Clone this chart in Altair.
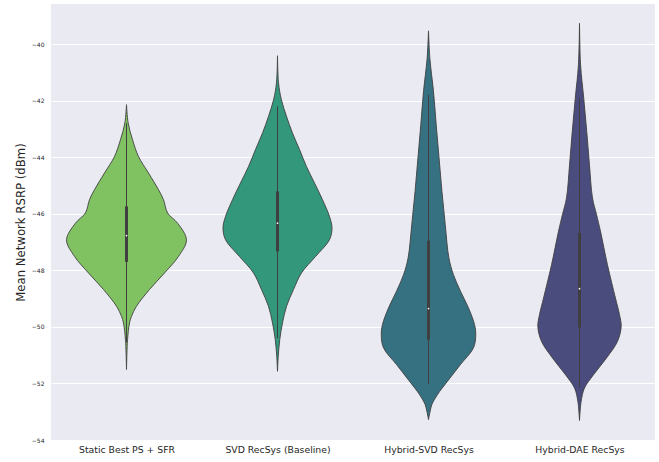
import json

import altair as alt
import pandas as pd

# Scenarios shown along the x axis and their violin fill colours (muted viridis)
categories = [
    "Static Best PS + SFR",
    "SVD RecSys (Baseline)",
    "Hybrid-SVD RecSys",
    "Hybrid-DAE RecSys",
]
fill_colors = ["#80c161", "#33977c", "#367182", "#4a4c7e"]

# Kernel-density outlines: RSRP level (dBm) and half-width of the violin
# expressed as a fraction of the category spacing.
static_rsrp = [-42.14, -42.79, -43.38, -43.97, -44.56, -45.15, -45.50, -45.97, -46.33,
               -46.92, -47.51, -48.09, -48.68, -49.27, -49.63, -49.86, -50.45, -51.51]
static_half = [0.0, 0.011, 0.040, 0.079, 0.146, 0.212, 0.245, 0.272, 0.338,
               0.397, 0.344, 0.252, 0.152, 0.066, 0.033, 0.020, 0.007, 0.0]

svd_rsrp = [-40.41, -41.38, -41.97, -42.56, -43.14, -43.73, -44.33, -44.91, -45.50, -46.09,
            -46.50, -46.92, -47.51, -48.09, -48.68, -49.27, -49.86, -50.45, -51.04, -51.57]
svd_half = [0.0, 0.007, 0.026, 0.060, 0.099, 0.146, 0.192, 0.245, 0.298, 0.344,
            0.361, 0.344, 0.252, 0.159, 0.106, 0.060, 0.033, 0.015, 0.005, 0.0]

hsvd_rsrp = [-39.53, -40.50, -41.67, -42.85, -44.03, -45.21, -46.39, -47.56, -48.15, -48.74,
             -49.33, -49.92, -50.27, -50.74, -51.33, -51.92, -52.39, -52.75, -52.98, -53.28]
hsvd_half = [0.0, 0.009, 0.033, 0.051, 0.070, 0.089, 0.111, 0.135, 0.165, 0.212,
             0.265, 0.305, 0.313, 0.298, 0.212, 0.126, 0.060, 0.022, 0.011, 0.0]

hdae_rsrp = [-39.26, -40.73, -41.91, -43.09, -44.27, -45.44, -46.03, -46.62, -47.80,
             -48.98, -49.57, -49.98, -50.51, -51.10, -51.69, -52.16, -52.63, -53.31]
hdae_half = [0.0, 0.007, 0.028, 0.048, 0.066, 0.086, 0.113, 0.139, 0.185,
             0.238, 0.265, 0.276, 0.252, 0.179, 0.093, 0.033, 0.011, 0.0]

# Inner box statistics per scenario
q1 = [-47.70, -47.33, -50.45, -50.02]
q3 = [-45.74, -45.21, -46.95, -46.68]
medians = [-46.77, -46.33, -49.35, -48.65]
whisker_low = [-50.55, -50.39, -52.01, -52.16]
whisker_high = [-42.80, -42.20, -41.79, -41.91]

y_ticks = [-54, -52, -50, -48, -46, -44, -42, -40]

outlines = [
    (static_rsrp, static_half),
    (svd_rsrp, svd_half),
    (hsvd_rsrp, hsvd_half),
    (hdae_rsrp, hdae_half),
]
rows = []
for idx, (levels, halves) in enumerate(outlines):
    for level, half in zip(levels, halves):
        rows.append({"cat": categories[idx], "pos": idx, "rsrp": level,
                     "left": idx - half, "right": idx + half})
violin_df = pd.DataFrame(rows).sort_values(["pos", "rsrp"])

box_df = pd.DataFrame({
    "cat": categories,
    "pos": list(range(len(categories))),
    "q1": q1, "q3": q3, "median": medians,
    "lo": whisker_low, "hi": whisker_high,
})

outline_color = "#3f3f3f"
font = "DejaVu Sans"

x_scale = alt.Scale(domain=[-0.5, 3.5], nice=False, zero=False)
y_scale = alt.Scale(domain=[-54, -38.58], nice=False, zero=False)

x_axis = alt.Axis(
    values=list(range(len(categories))),
    labelExpr=json.dumps(categories) + "[datum.value]",
    title=None, grid=False, ticks=False, domain=False,
    labelFontSize=9.3, labelFont=font, labelColor="#262626", labelPadding=5,
)
y_axis = alt.Axis(
    values=y_ticks,
    labelExpr="replace(format(datum.value, 'd'), '-', '\u2212')",
    title="Mean Network RSRP (dBm)", titleFont=font, titleFontSize=11.7,
    titleFontWeight="normal", titleColor="#262626", titlePadding=5,
    grid=True, gridColor="white", gridWidth=1, ticks=False, domain=False,
    labelFontSize=6, labelFont=font, labelColor="#262626", labelPadding=7,
)

violins = alt.Chart(violin_df).mark_area(
    orient="horizontal", interpolate="catmull-rom",
    stroke=outline_color, strokeWidth=0.9, opacity=1,
).encode(
    y=alt.Y("rsrp:Q", scale=y_scale, axis=y_axis),
    x=alt.X("left:Q", scale=x_scale, axis=x_axis),
    x2="right:Q",
    color=alt.Color("cat:N", scale=alt.Scale(domain=categories, range=fill_colors), legend=None),
)

whiskers = alt.Chart(box_df).mark_rule(color=outline_color, strokeWidth=1).encode(
    x="pos:Q", y="lo:Q", y2="hi:Q",
)

boxes = alt.Chart(box_df).mark_rule(color=outline_color, strokeWidth=3).encode(
    x="pos:Q", y="q1:Q", y2="q3:Q",
)

median_dots = alt.Chart(box_df).mark_point(
    filled=True, color="white", size=3, opacity=1, shape="circle",
).encode(x="pos:Q", y="median:Q")

chart = alt.layer(violins, whiskers, boxes, median_dots).properties(
    width=604,
    height=436,
    autosize=alt.AutoSizeParams(type="none"),
    padding={"left": 51, "top": 4, "right": 4, "bottom": 22},
    background="white",
).configure_view(
    fill="#eaeaf2", strokeWidth=0,
)

chart.save("out.html", embed_options={"renderer": "svg", "actions": False})
